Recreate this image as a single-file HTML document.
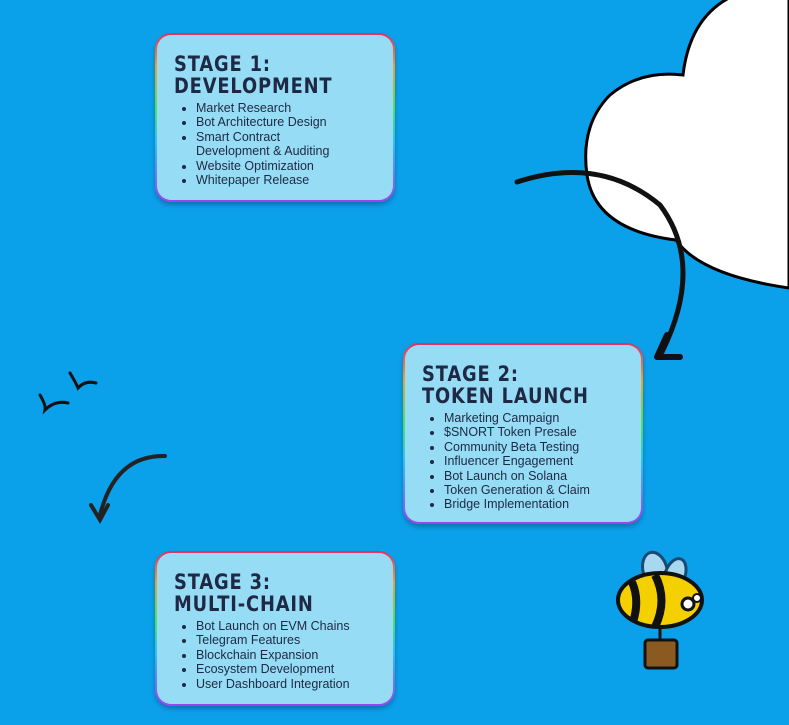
<!DOCTYPE html>
<html><head><style>
body{margin:0;width:789px;height:725px;background:#0aa0ea;position:relative;overflow:hidden;font-family:"Liberation Sans",sans-serif}
.box{position:absolute;border-radius:16px;padding:2px;background:linear-gradient(180deg,#e0306a,#f0a030 20%,#50e060 45%,#30c0f0 65%,#a040f0);box-shadow:0 3px 4px rgba(0,0,0,.25)}
.in{background:#95dcf4;border-radius:14px;width:100%;height:100%;box-sizing:border-box;padding:18px 0 0 17px;color:#1f2845}
h2{margin:0;font-size:21px;line-height:22px;font-weight:900;letter-spacing:1px;font-family:"DejaVu Sans",sans-serif;transform:scaleX(.85);transform-origin:left}
ul{margin:4px 0 0 0;padding-left:22px;font-size:12.5px;line-height:14.4px;white-space:nowrap}
</style></head><body>
<svg width="789" height="725" style="position:absolute;left:0;top:0">
<path d="M789 -5 L735 -5 Q690 15 683 75 Q640 70 610 95 Q580 125 587 175 Q595 230 676 240 Q700 275 789 288 Z" fill="#fff" stroke="#000" stroke-width="3"/>
<path d="M517 182 Q600 155 660 205 Q705 265 662 352" fill="none" stroke="#111" stroke-width="5" stroke-linecap="round"/>
<path d="M667 335 L657 357 L680 357" fill="none" stroke="#111" stroke-width="6" stroke-linecap="round" stroke-linejoin="round"/>
<path d="M165 456 Q115 455 100 515" fill="none" stroke="#222" stroke-width="4" stroke-linecap="round"/>
<path d="M91 505 L100 520 L108 505" fill="none" stroke="#222" stroke-width="4" stroke-linecap="round"/>
<path d="M40 395 Q46 405 45 410 Q55 400 68 403" fill="none" stroke="#111" stroke-width="3" stroke-linecap="round"/>
<path d="M70 373 Q76 383 78 388 Q85 380 96 383" fill="none" stroke="#111" stroke-width="3" stroke-linecap="round"/>
<ellipse cx="655" cy="570" rx="12" ry="18" fill="#a8d8f0" stroke="#1a4a70" stroke-width="3" transform="rotate(-15 655 570)"/>
<ellipse cx="675" cy="575" rx="10" ry="17" fill="#a8d8f0" stroke="#1a4a70" stroke-width="3" transform="rotate(20 675 575)"/>
<ellipse cx="660" cy="600" rx="42" ry="27" fill="#f5d000" stroke="#111" stroke-width="4"/>
<path d="M632 582 Q640 600 633 622 M655 575 Q668 600 655 627" stroke="#111" stroke-width="8" fill="none"/>
<circle cx="688" cy="604" r="6" fill="#fff" stroke="#111" stroke-width="3"/>
<circle cx="697" cy="598" r="4" fill="#fff" stroke="#111" stroke-width="2"/>
<line x1="660" y1="625" x2="660" y2="640" stroke="#111" stroke-width="3"/>
<rect x="645" y="640" width="32" height="28" rx="3" fill="#8a5a20" stroke="#111" stroke-width="3"/>
</svg>
<div class="box" style="left:155px;top:33px;width:236px;height:165px"><div class="in"><h2>STAGE 1:<br>DEVELOPMENT</h2><ul><li>Market Research</li><li>Bot Architecture Design</li><li>Smart Contract<br>Development &amp; Auditing</li><li>Website Optimization</li><li>Whitepaper Release</li></ul></div></div>
<div class="box" style="left:403px;top:343px;width:236px;height:177px"><div class="in"><h2>STAGE 2:<br>TOKEN LAUNCH</h2><ul><li>Marketing Campaign</li><li>$SNORT Token Presale</li><li>Community Beta Testing</li><li>Influencer Engagement</li><li>Bot Launch on Solana</li><li>Token Generation &amp; Claim</li><li>Bridge Implementation</li></ul></div></div>
<div class="box" style="left:155px;top:551px;width:236px;height:151px"><div class="in"><h2>STAGE 3:<br>MULTI-CHAIN</h2><ul><li>Bot Launch on EVM Chains</li><li>Telegram Features</li><li>Blockchain Expansion</li><li>Ecosystem Development</li><li>User Dashboard Integration</li></ul></div></div>
</body></html>
